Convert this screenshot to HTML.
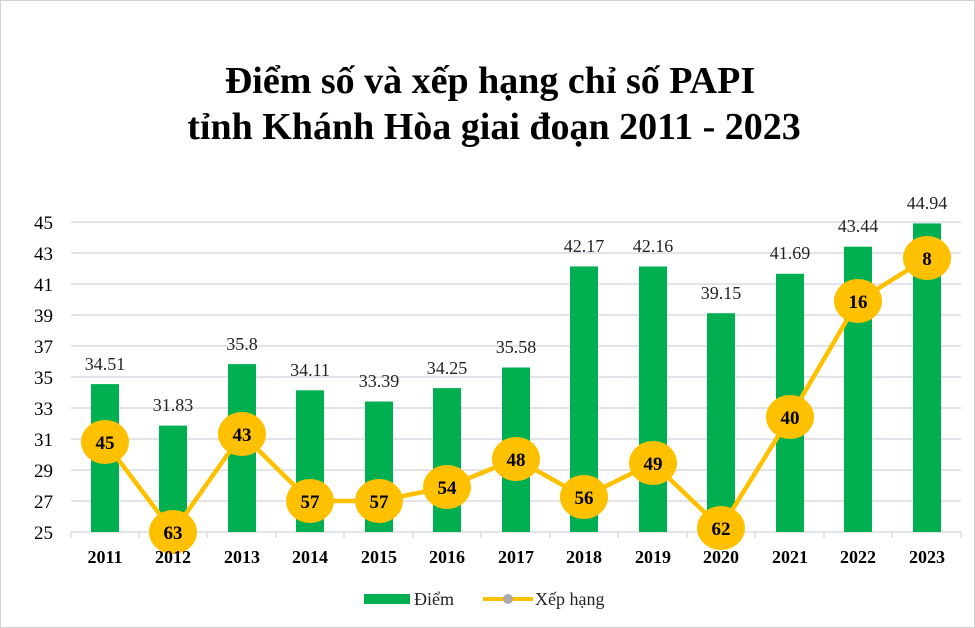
<!DOCTYPE html>
<html><head><meta charset="utf-8"><style>
body{margin:0;background:#fff;}
svg{display:block;font-family:"Liberation Serif",serif;}
</style></head><body>
<svg width="975" height="628" viewBox="0 0 975 628" xmlns="http://www.w3.org/2000/svg">
<rect width="975" height="628" fill="#fff"/>
<rect x="0.5" y="0.5" width="974" height="627" fill="none" stroke="#d0d0d0" stroke-width="1"/>
<text x="490" y="93" text-anchor="middle" font-size="38" font-weight="bold" fill="#000">Điểm số và xếp hạng chỉ số PAPI</text>
<text x="494" y="139" text-anchor="middle" font-size="38" font-weight="bold" fill="#000">tỉnh Khánh Hòa giai đoạn 2011 - 2023</text>
<g stroke="#d9dce3" stroke-width="1.5">
<line x1="71" x2="961" y1="222" y2="222"/><line x1="71" x2="961" y1="253" y2="253"/>
<line x1="71" x2="961" y1="284" y2="284"/><line x1="71" x2="961" y1="315" y2="315"/>
<line x1="71" x2="961" y1="346" y2="346"/><line x1="71" x2="961" y1="377" y2="377"/>
<line x1="71" x2="961" y1="408" y2="408"/><line x1="71" x2="961" y1="439" y2="439"/>
<line x1="71" x2="961" y1="470" y2="470"/><line x1="71" x2="961" y1="501" y2="501"/>
<line x1="71" x2="961" y1="532" y2="532"/>
</g>
<g stroke="#d9dce3" stroke-width="1.5">
<line x1="71" x2="71" y1="532" y2="538"/><line x1="139" x2="139" y1="532" y2="538"/><line x1="207" x2="207" y1="532" y2="538"/><line x1="276" x2="276" y1="532" y2="538"/><line x1="344" x2="344" y1="532" y2="538"/><line x1="413" x2="413" y1="532" y2="538"/><line x1="481" x2="481" y1="532" y2="538"/><line x1="550" x2="550" y1="532" y2="538"/><line x1="618" x2="618" y1="532" y2="538"/><line x1="687" x2="687" y1="532" y2="538"/><line x1="755" x2="755" y1="532" y2="538"/><line x1="824" x2="824" y1="532" y2="538"/><line x1="892" x2="892" y1="532" y2="538"/><line x1="961" x2="961" y1="532" y2="538"/>
</g>
<g font-size="19" fill="#000" text-anchor="end">
<text x="53" y="229">45</text><text x="53" y="260">43</text><text x="53" y="291">41</text><text x="53" y="322">39</text><text x="53" y="353">37</text><text x="53" y="384">35</text><text x="53" y="415">33</text><text x="53" y="446">31</text><text x="53" y="477">29</text><text x="53" y="508">27</text><text x="53" y="539">25</text>
</g>
<g fill="#00B050">
<rect x="91" y="384.1" width="28" height="147.9"/>
<rect x="159" y="425.6" width="28" height="106.4"/>
<rect x="228" y="364.1" width="28" height="167.9"/>
<rect x="296" y="390.3" width="28" height="141.7"/>
<rect x="365" y="401.5" width="28" height="130.5"/>
<rect x="433" y="388.1" width="28" height="143.9"/>
<rect x="502" y="367.5" width="28" height="164.5"/>
<rect x="570" y="266.4" width="28" height="265.6"/>
<rect x="639" y="266.5" width="28" height="265.5"/>
<rect x="707" y="313.2" width="28" height="218.8"/>
<rect x="776" y="273.8" width="28" height="258.2"/>
<rect x="844" y="246.7" width="28" height="285.3"/>
<rect x="913" y="223.4" width="28" height="308.6"/>
</g>
<g font-size="18" fill="#222" text-anchor="middle">
<text x="105" y="370">34.51</text><text x="173" y="411">31.83</text><text x="242" y="350">35.8</text><text x="310" y="376">34.11</text><text x="379" y="387">33.39</text><text x="447" y="374">34.25</text><text x="516" y="353">35.58</text><text x="584" y="252">42.17</text><text x="653" y="252">42.16</text><text x="721" y="299">39.15</text><text x="790" y="259">41.69</text><text x="858" y="232">43.44</text><text x="927" y="209">44.94</text>
</g>
<polyline fill="none" stroke="#FFC000" stroke-width="4.5" stroke-linejoin="round" points="105,442 173,532 242,434 310,501 379,501 447,487 516,459 584,497 653,463 721,528 790,417 858,301 927,258"/>
<g fill="#FFC000">
<ellipse cx="105" cy="442" rx="24" ry="22"/><ellipse cx="173" cy="532" rx="24" ry="22"/><ellipse cx="242" cy="434" rx="24" ry="22"/><ellipse cx="310" cy="501" rx="24" ry="22"/><ellipse cx="379" cy="501" rx="24" ry="22"/><ellipse cx="447" cy="487" rx="24" ry="22"/><ellipse cx="516" cy="459" rx="24" ry="22"/><ellipse cx="584" cy="497" rx="24" ry="22"/><ellipse cx="653" cy="463" rx="24" ry="22"/><ellipse cx="721" cy="528" rx="24" ry="22"/><ellipse cx="790" cy="417" rx="24" ry="22"/><ellipse cx="858" cy="301" rx="24" ry="22"/><ellipse cx="927" cy="258" rx="24" ry="22"/>
</g>
<g font-size="19" font-weight="bold" fill="#000" text-anchor="middle">
<text x="105" y="449">45</text><text x="173" y="539">63</text><text x="242" y="441">43</text><text x="310" y="508">57</text><text x="379" y="508">57</text><text x="447" y="494">54</text><text x="516" y="466">48</text><text x="584" y="504">56</text><text x="653" y="470">49</text><text x="721" y="535">62</text><text x="790" y="424">40</text><text x="858" y="308">16</text><text x="927" y="265">8</text>
</g>
<g font-size="18" font-weight="bold" fill="#000" text-anchor="middle">
<text x="105" y="563">2011</text><text x="173" y="563">2012</text><text x="242" y="563">2013</text><text x="310" y="563">2014</text><text x="379" y="563">2015</text><text x="447" y="563">2016</text><text x="516" y="563">2017</text><text x="584" y="563">2018</text><text x="653" y="563">2019</text><text x="721" y="563">2020</text><text x="790" y="563">2021</text><text x="858" y="563">2022</text><text x="927" y="563">2023</text>
</g>
<rect x="364" y="594" width="46" height="10" fill="#00B050"/>
<text x="414" y="605" font-size="18" fill="#222">Điểm</text>
<line x1="483" x2="533" y1="599" y2="599" stroke="#FFC000" stroke-width="4"/>
<circle cx="508" cy="599" r="5" fill="#aaa"/>
<text x="535" y="605" font-size="18" fill="#222">Xếp hạng</text>
</svg>
</body></html>
